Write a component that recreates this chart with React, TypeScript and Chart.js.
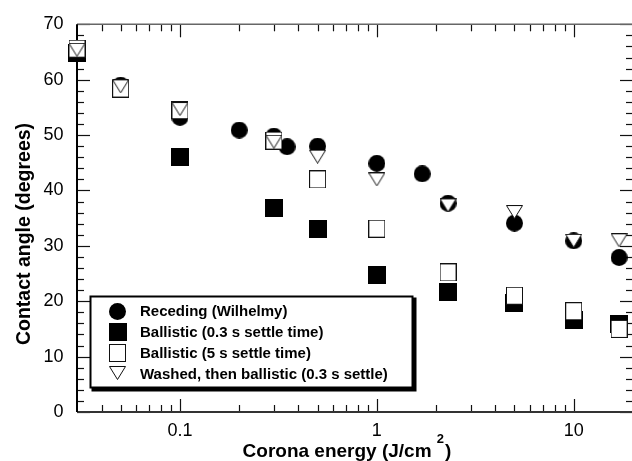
import React, { useEffect, useRef } from 'react';
import { Chart, registerables } from 'chart.js';

Chart.register(...registerables);

const FONT = '"Liberation Sans", Arial, Helvetica, sans-serif';

// ---- data ----
const seriesLabels = [
  'Receding (Wilhelmy)',
  'Ballistic (0.3 s settle time)',
  'Ballistic (5 s settle time)',
  'Washed, then ballistic (0.3 s settle)',
];

const recedingX = [0.05, 0.1, 0.2, 0.3, 0.35, 0.5, 1, 1.7, 2.3, 5, 10, 17];
const recedingY = [59.0, 53.2, 50.9, 49.8, 47.9, 48.0, 44.9, 43.0, 37.7, 34.1, 30.9, 27.9];

const ballistic03X = [0.03, 0.1, 0.3, 0.5, 1, 2.3, 5, 10, 17];
const ballistic03Y = [64.8, 46.1, 36.8, 33.0, 24.8, 21.7, 19.6, 16.7, 15.8];

const ballistic5X = [0.03, 0.05, 0.1, 0.3, 0.5, 1, 2.3, 5, 10, 17];
const ballistic5Y = [65.6, 58.4, 54.5, 49.0, 42.0, 33.1, 25.2, 21.0, 18.2, 15.0];

const washedX = [0.03, 0.05, 0.1, 0.3, 0.5, 1, 2.3, 5, 10, 17];
const washedY = [65.4, 58.8, 54.7, 48.8, 46.1, 42.0, 37.3, 36.1, 30.9, 31.0];

// ---- axes ----
const xMin = 0.03;
const xMax = 20;
const yMin = 0;
const yMax = 70;
const xMajorTicks = [0.1, 1, 10];
const xMinorTicks = [0.04, 0.05, 0.06, 0.07, 0.08, 0.09, 0.2, 0.3, 0.4, 0.5, 0.6, 0.7, 0.8, 0.9, 2, 3, 4, 5, 6, 7, 8, 9];
const yMajorTicks = [0, 10, 20, 30, 40, 50, 60, 70];
const yMinorTicks = [2, 4, 6, 8, 12, 14, 16, 18, 22, 24, 26, 28, 32, 34, 36, 38, 42, 44, 46, 48, 52, 54, 56, 58, 62, 64, 66, 68];

const xTitleMain = 'Corona energy (J/cm ';
const xTitleSup = '2';
const xTitleEnd = ')';
const yTitle = 'Contact angle (degrees)';

function zip(xs: number[], ys: number[]) {
  return xs.map((x, i) => ({ x, y: ys[i] }));
}

function makeMarker(kind: string): HTMLCanvasElement {
  const c = document.createElement('canvas');
  const ctx = c.getContext('2d') as CanvasRenderingContext2D;
  if (kind === 'circle') {
    c.width = 17; c.height = 17;
    ctx.fillStyle = '#000';
    ctx.beginPath();
    ctx.arc(8.5, 8.5, 8.5, 0, Math.PI * 2);
    ctx.fill();
  } else if (kind === 'filledSquare') {
    c.width = 18; c.height = 18;
    ctx.fillStyle = '#000';
    ctx.fillRect(0, 0, 18, 18);
  } else if (kind === 'openSquare') {
    c.width = 17; c.height = 18;
    ctx.fillStyle = '#fff';
    ctx.fillRect(0, 0, 17, 18);
    ctx.strokeStyle = '#111';
    ctx.lineWidth = 1;
    ctx.strokeRect(0.5, 0.5, 16, 17);
  } else {
    c.width = 17; c.height = 14;
    ctx.fillStyle = '#fff';
    ctx.strokeStyle = '#111';
    ctx.lineWidth = 1;
    ctx.beginPath();
    ctx.moveTo(0.5, 0.5);
    ctx.lineTo(16.5, 0.5);
    ctx.lineTo(8.5, 13.5);
    ctx.closePath();
    ctx.fill();
    ctx.stroke();
  }
  return c;
}

const axesPlugin = {
  id: 'framedAxes',
  beforeDatasetsDraw(chart: any) {
    const { ctx, chartArea } = chart;
    const { left, right, top, bottom } = chartArea;
    const xs = chart.scales.x;
    const ys = chart.scales.y;
    const major = 13;
    const minor = 7;
    ctx.save();
    ctx.strokeStyle = '#111';
    ctx.lineWidth = 1.2;
    const line = (x1: number, y1: number, x2: number, y2: number) => {
      ctx.beginPath();
      ctx.moveTo(x1, y1);
      ctx.lineTo(x2, y2);
      ctx.stroke();
    };
    const px = (v: number) => Math.round(xs.getPixelForValue(v)) + 0.5;
    const py = (v: number) => Math.round(ys.getPixelForValue(v)) + 0.5;
    xMajorTicks.forEach((v) => {
      const p = px(v);
      line(p, bottom, p, bottom - major);
      line(p, top, p, top + major);
    });
    xMinorTicks.forEach((v) => {
      const p = px(v);
      line(p, bottom, p, bottom - minor);
      line(p, top, p, top + minor);
    });
    yMajorTicks.forEach((v) => {
      const p = py(v);
      line(left, p, left + major, p);
      line(right, p, right - major, p);
    });
    yMinorTicks.forEach((v) => {
      const p = py(v);
      line(left, p, left + minor, p);
      line(right, p, right - minor, p);
    });
    // frame
    ctx.strokeStyle = '#666';
    ctx.lineWidth = 1.5;
    line(left, top, right, top);
    ctx.strokeStyle = '#333';
    ctx.lineWidth = 2;
    line(left, bottom, right, bottom);
    ctx.strokeStyle = '#000';
    ctx.lineWidth = 2;
    line(left, top, left, bottom);
    ctx.restore();
  },
};

const overlayPlugin = {
  id: 'overlay',
  afterDraw(chart: any) {
    const { ctx } = chart;
    ctx.save();
    // x title with superscript
    ctx.fillStyle = '#000';
    ctx.textBaseline = 'alphabetic';
    ctx.textAlign = 'left';
    const mainFont = `bold 19px ${FONT}`;
    const supFont = `bold 13px ${FONT}`;
    ctx.font = mainFont;
    const w1 = ctx.measureText(xTitleMain).width;
    const w3 = ctx.measureText(xTitleEnd).width;
    ctx.font = supFont;
    const w2 = ctx.measureText(xTitleSup).width;
    const total = w1 + w2 + w3 + 1;
    const cx = 347;
    const baseY = 456.5;
    let x0 = cx - total / 2;
    ctx.font = mainFont;
    ctx.fillText(xTitleMain, x0, baseY);
    x0 += w1;
    ctx.font = supFont;
    ctx.fillText(xTitleSup, x0, baseY - 13.5);
    x0 += w2 + 1;
    ctx.font = mainFont;
    ctx.fillText(xTitleEnd, x0, baseY);

    // y title
    ctx.save();
    ctx.translate(29.5, 234);
    ctx.rotate(-Math.PI / 2);
    ctx.textAlign = 'center';
    ctx.font = `bold 19.5px ${FONT}`;
    ctx.fillText(yTitle, 0, 0);
    ctx.restore();

    // legend box with shadow
    const bx = 90.5, by = 296.5, bw = 322, bh = 91;
    ctx.fillStyle = '#000';
    ctx.fillRect(bx + 1, by + 1, bw + 3, bh + 3);
    ctx.fillStyle = '#fff';
    ctx.fillRect(bx, by, bw, bh);
    ctx.strokeStyle = '#000';
    ctx.lineWidth = 2;
    ctx.strokeRect(bx, by, bw, bh);
    ctx.font = `bold 15px ${FONT}`;
    ctx.textBaseline = 'middle';
    ctx.textAlign = 'left';
    chart.data.datasets.forEach((ds: any, i: number) => {
      const yy = 311 + i * 20.8;
      const img = ds.pointStyle as HTMLCanvasElement;
      ctx.drawImage(img, Math.round(117.5 - img.width / 2), Math.round(yy - img.height / 2));
      ctx.fillStyle = '#000';
      ctx.fillText(ds.label, 140, yy + 1);
    });
    ctx.restore();
  },
};

export default function App() {
  const ref = useRef<HTMLCanvasElement | null>(null);

  useEffect(() => {
    if (!ref.current) return;
    const circle = makeMarker('circle');
    const fsq = makeMarker('filledSquare');
    const osq = makeMarker('openSquare');
    const tri = makeMarker('triangle');
    const common = { showLine: false, clip: false as any, pointRadius: 9, pointHoverRadius: 9, borderWidth: 0 };
    const chart = new Chart(ref.current, {
      type: 'scatter',
      data: {
        datasets: [
          { ...common, label: seriesLabels[0], data: zip(recedingX, recedingY), pointStyle: circle as any, order: 2 },
          { ...common, label: seriesLabels[1], data: zip(ballistic03X, ballistic03Y), pointStyle: fsq as any, order: 3 },
          { ...common, label: seriesLabels[2], data: zip(ballistic5X, ballistic5Y), pointStyle: osq as any, order: 1 },
          { ...common, label: seriesLabels[3], data: zip(washedX, washedY), pointStyle: tri as any, order: 0 },
        ],
      },
      options: {
        responsive: false,
        animation: false,
        devicePixelRatio: 1,
        layout: { padding: { top: 22, right: 12, left: 0, bottom: 0 } },
        plugins: {
          legend: { display: false },
          tooltip: { enabled: false },
          title: { display: false },
        },
        scales: {
          x: {
            type: 'logarithmic',
            position: 'bottom',
            min: xMin,
            max: xMax,
            grid: { display: false, drawTicks: false },
            border: { display: false },
            afterBuildTicks: (s: any) => {
              s.ticks = xMajorTicks.map((v) => ({ value: v }));
            },
            afterFit: (s: any) => {
              s.height = 49;
            },
            ticks: {
              autoSkip: false,
              maxRotation: 0,
              padding: 8,
              color: '#000',
              font: { family: FONT, size: 18 },
              callback: (v: any) => String(v),
            },
          },
          y: {
            type: 'linear',
            position: 'left',
            min: yMin,
            max: yMax,
            grid: { display: false, drawTicks: false },
            border: { display: false },
            afterBuildTicks: (s: any) => {
              s.ticks = yMajorTicks.map((v) => ({ value: v }));
            },
            afterFit: (s: any) => {
              s.width = 77;
            },
            ticks: {
              padding: 13.5,
              color: '#000',
              font: { family: FONT, size: 18 },
              callback: (v: any) => String(v),
            },
          },
        },
      },
      plugins: [axesPlugin, overlayPlugin],
    });
    return () => chart.destroy();
  }, []);

  return (
    <div style={{ position: 'fixed', left: 0, top: 0, width: 632, height: 461, overflow: 'hidden', background: '#fff' }}>
      <canvas ref={ref} width={645} height={461} style={{ display: 'block', width: 645, height: 461 }} />
    </div>
  );
}
